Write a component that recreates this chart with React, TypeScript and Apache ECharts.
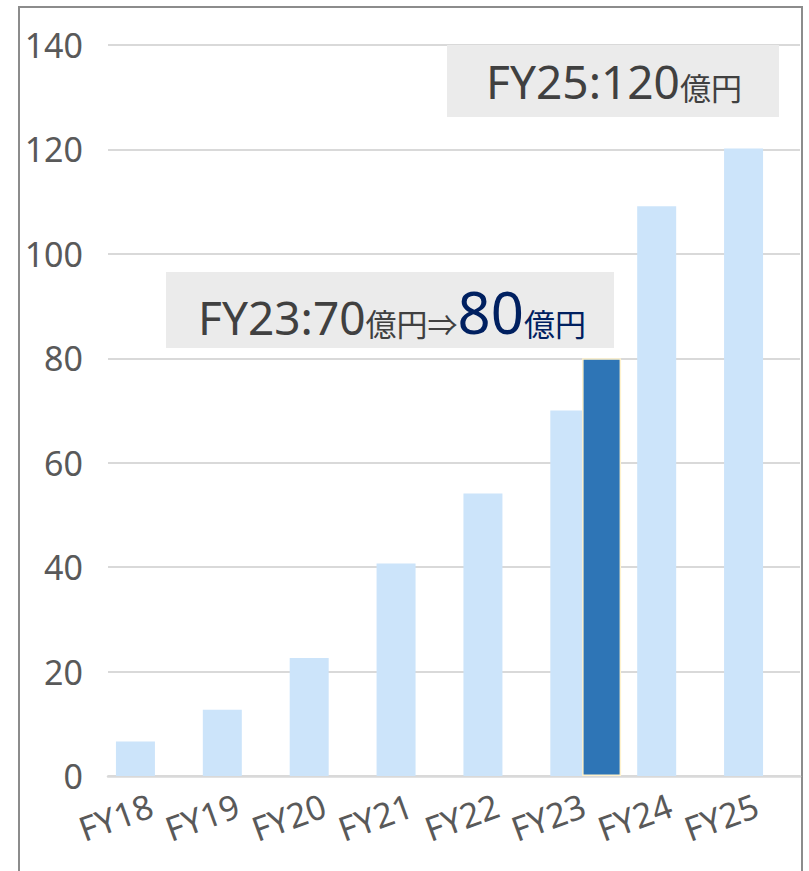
import React, { useEffect, useRef } from 'react';
import * as echarts from 'echarts';

// Fiscal years on the category axis
const categories = ['FY18', 'FY19', 'FY20', 'FY21', 'FY22', 'FY23', 'FY24', 'FY25'];
// Light-blue bars (FY23 = original target 70)
const salesValues = [6.6, 12.7, 22.6, 40.7, 54.1, 70, 109.1, 120.2];
// Dark-blue bar: revised FY23 target
const revisedValues: (number | string)[] = ['-', '-', '-', '-', '-', 80, '-', '-'];
// Value axis
const yMin = 0;
const yMax = 140;
const yInterval = 20;
// Annotation texts
const note25 = { head: 'FY25:120', unit: '億円' };
const note23 = { head: 'FY23:70', unit: '億円', arrow: '⇒', value: '80', unit2: '億円' };

const FONT = '"Noto Sans", "Noto Sans CJK JP", sans-serif';
const CJK = '"Noto Sans CJK JP", "Noto Sans", sans-serif';

export default function App() {
  const ref = useRef<HTMLDivElement>(null);

  useEffect(() => {
    if (!ref.current) return;
    const chart = echarts.init(ref.current, undefined, { renderer: 'svg' });
    chart.setOption({
      animation: false,
      backgroundColor: '#ffffff',
      textStyle: { fontFamily: FONT },
      grid: [
        { left: 92, right: 22, top: 45, bottom: 95 },
        { left: 108, right: 9, top: 45, bottom: 95 },
      ],
      xAxis: [
        { type: 'category', data: categories, gridIndex: 0, show: false },
        { type: 'category', data: categories, gridIndex: 0, show: false },
        {
          type: 'category',
          data: categories,
          gridIndex: 1,
          axisLine: { lineStyle: { color: '#d9d9d9', width: 2.5 } },
          axisTick: { show: false },
          axisLabel: {
            interval: 0,
            rotate: 20,
            margin: 28,
            fontSize: 34,
            color: '#595959',
            fontFamily: FONT,
          },
        },
      ],
      yAxis: [
        { type: 'value', gridIndex: 0, min: yMin, max: yMax, interval: yInterval, show: false },
        {
          type: 'value',
          gridIndex: 1,
          min: yMin,
          max: yMax,
          interval: yInterval,
          axisLine: { show: false },
          axisTick: { show: false },
          axisLabel: { fontSize: 34, color: '#595959', margin: 25, fontFamily: FONT },
          splitLine: { lineStyle: { color: '#d9d9d9', width: 2 } },
        },
      ],
      series: [
        {
          type: 'bar',
          xAxisIndex: 0,
          yAxisIndex: 0,
          data: salesValues,
          barWidth: 39,
          itemStyle: { color: '#cce4fa' },
        },
        {
          type: 'bar',
          xAxisIndex: 1,
          yAxisIndex: 0,
          data: [],
          barWidth: 39,
          barGap: '63%',
        },
        {
          type: 'bar',
          xAxisIndex: 1,
          yAxisIndex: 0,
          data: revisedValues,
          barWidth: 39,
          barGap: '63%',
          itemStyle: { color: '#2e75b6', borderColor: '#fff2cc', borderWidth: 1.5 },
        },
      ],
      graphic: [
        {
          type: 'rect',
          silent: true,
          z: 0,
          shape: { x: 19, y: 7, width: 783, height: 900 },
          style: { fill: 'none', stroke: '#8c8c8c', lineWidth: 2 },
        },
        {
          type: 'rect',
          z: 10,
          shape: { x: 447, y: 45, width: 332, height: 72 },
          style: { fill: '#ebebeb' },
        },
        {
          type: 'text',
          z: 11,
          x: 614,
          y: 81,
          style: {
            text: `{a|${note25.head}}{b|${note25.unit}}`,
            align: 'center',
            verticalAlign: 'middle',
            rich: {
              a: { fontSize: 46, fontFamily: FONT, fill: '#404040', verticalAlign: 'bottom' },
              b: { fontSize: 31, fontFamily: CJK, fill: '#404040', verticalAlign: 'bottom', padding: [0, 0, 2, 0] },
            },
          },
        },
        {
          type: 'rect',
          z: 10,
          shape: { x: 166, y: 272, width: 448, height: 76 },
          style: { fill: '#ebebeb' },
        },
        {
          type: 'text',
          z: 11,
          x: 392,
          y: 311,
          style: {
            text: `{a|${note23.head}}{b|${note23.unit}}{c|${note23.arrow}}{d|${note23.value}}{e|${note23.unit2}}`,
            align: 'center',
            verticalAlign: 'middle',
            rich: {
              a: { fontSize: 46, fontFamily: FONT, fill: '#404040', verticalAlign: 'bottom' },
              b: { fontSize: 31, fontFamily: CJK, fill: '#404040', verticalAlign: 'bottom', padding: [0, 0, 2, 0] },
              c: { fontSize: 30, fontFamily: CJK, fill: '#404040', verticalAlign: 'bottom', padding: [0, 0, 2, 0] },
              d: { fontSize: 58, fontFamily: FONT, fill: '#002060', verticalAlign: 'bottom' },
              e: { fontSize: 31, fontFamily: CJK, fill: '#002060', verticalAlign: 'bottom', padding: [0, 0, 2, 0] },
            },
          },
        },
      ],
    });
    return () => chart.dispose();
  }, []);

  return (
    <div
      ref={ref}
      style={{ position: 'absolute', left: 0, top: 0, width: 809, height: 871 }}
    />
  );
}
